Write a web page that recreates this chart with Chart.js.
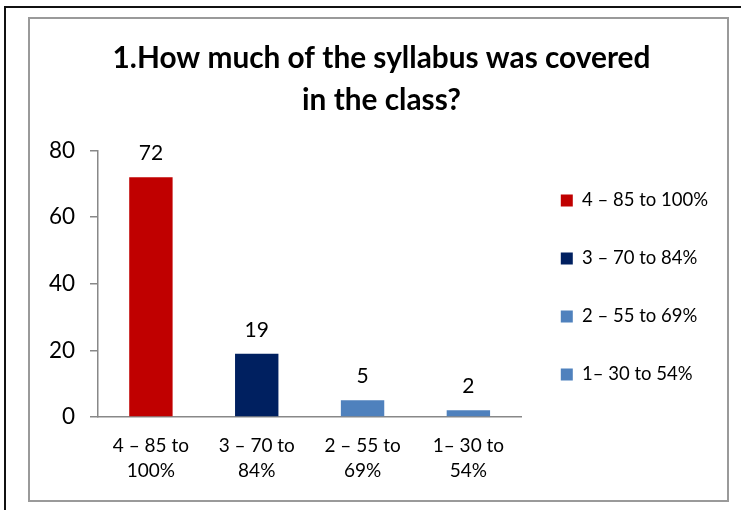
<!DOCTYPE html>
<html>
<head>
<meta charset="utf-8">
<script src="https://cdn.jsdelivr.net/npm/chart.js@4/dist/chart.umd.min.js"></script>
<style>
  html, body { margin: 0; padding: 0; background: #fff; }
  #wrap { position: relative; width: 741px; height: 510px; overflow: hidden; }
  #outer { position: absolute; left: 4px; top: 6px; right: -10px; bottom: -10px; border: 2px solid #111; }
  #inner { position: absolute; left: 28px; top: 17px; width: 697px; height: 481px; border: 2px solid #9a9a9a; }
  canvas { position: absolute; left: 0; top: 0; }
</style>
</head>
<body>
<div id="wrap">
  <div id="outer"></div>
  <div id="inner"></div>
  <canvas id="c" width="741" height="510"></canvas>
</div>
<script>
const categories = [['4 – 85 to', '100%'], ['3 – 70 to', '84%'], ['2 – 55 to', '69%'], ['1– 30 to', '54%']];
const legendLabels = ['4 – 85 to 100%', '3 – 70 to 84%', '2 – 55 to 69%', '1– 30 to 54%'];
const values = [72, 19, 5, 2];
const barColors = ['#C00000', '#002060', '#4F81BD', '#4F81BD'];
const yTicks = [0, 20, 40, 60, 80];
const titleLines = ['1.How much of the syllabus was covered', 'in the class?'];

const FONT = 'Lato, "Open Sans", "Liberation Sans", sans-serif';

const valueLabels = {
  id: 'valueLabels',
  afterDatasetsDraw(chart) {
    const ctx = chart.ctx;
    const meta = chart.getDatasetMeta(0);
    ctx.save();
    ctx.font = '21px ' + FONT;
    ctx.fillStyle = '#000';
    ctx.textAlign = 'center';
    ctx.textBaseline = 'middle';
    meta.data.forEach((bar, i) => {
      ctx.fillText(String(values[i]), bar.x, bar.y - 24);
    });
    ctx.restore();
  }
};

new Chart(document.getElementById('c'), {
  type: 'bar',
  data: {
    labels: categories,
    datasets: [{
      data: values,
      backgroundColor: barColors,
      borderWidth: 0,
      categoryPercentage: 1,
      barPercentage: 0.41
    }]
  },
  options: {
    responsive: false,
    animation: false,
    devicePixelRatio: 1,
    layout: { padding: { left: 45, right: 23, top: 18, bottom: 10 } },
    plugins: {
      title: {
        display: true,
        text: titleLines,
        color: '#000',
        font: { family: FONT, size: 29.8, weight: 'bold', lineHeight: 1.42 },
        padding: { top: 19, bottom: 29 }
      },
      legend: {
        position: 'right',
        align: 'center',
        maxWidth: 260,
        title: {
          display: true,
          text: ' ',
          color: 'rgba(0,0,0,0)',
          font: { family: FONT, size: 16, lineHeight: 1.25 },
          padding: { top: 0, bottom: 37 }
        },
        labels: {
          color: '#000',
          font: { family: FONT, size: 18.5 },
          boxWidth: 12,
          boxHeight: 12,
          padding: 39.5,
          generateLabels: () => legendLabels.map((t, i) => ({
            text: t, fillStyle: barColors[i], strokeStyle: barColors[i], fontColor: '#000', lineWidth: 0, index: i
          }))
        }
      },
      tooltip: { enabled: false }
    },
    scales: {
      x: {
        grid: { display: false },
        border: { display: true, color: '#888', width: 1.5 },
        ticks: {
          color: '#000',
          font: { family: FONT, size: 19, lineHeight: 1.32 },
          padding: 8,
          maxRotation: 0
        },
        afterFit(scale) { scale.height = 83; }
      },
      y: {
        min: 0,
        max: 80,
        afterBuildTicks(scale) { scale.ticks = yTicks.map(v => ({ value: v })); },
        grid: { display: true, drawOnChartArea: false, drawTicks: true, tickLength: 8, color: '#888', lineWidth: 1.5 },
        border: { display: true, color: '#888', width: 1.5 },
        ticks: {
          color: '#000',
          font: { family: FONT, size: 22.5 },
          padding: 15
        },
        afterFit(scale) { scale.width = 53; }
      }
    }
  },
  plugins: [valueLabels]
});
</script>
</body>
</html>
